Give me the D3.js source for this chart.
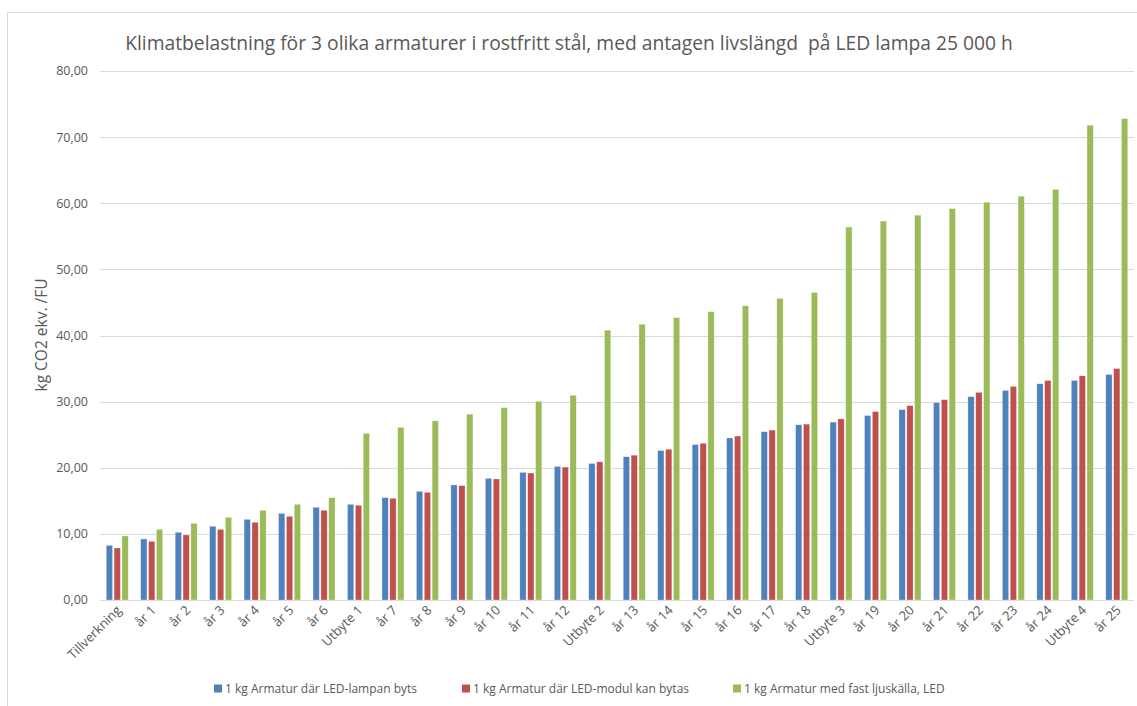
<!DOCTYPE html>
<html><head><meta charset="utf-8">
<script src="https://cdn.jsdelivr.net/npm/d3@7"></script>
<style>
html,body{margin:0;padding:0;background:#fff;}
svg{display:block;font-family:"Open Sans",sans-serif;}
text{white-space:pre;}
</style></head>
<body>
<svg id="chart" width="1137" height="706"></svg>
<script>
const categories = ["Tillverkning","år 1","år 2","år 3","år 4","år 5","år 6","Utbyte 1","år 7","år 8","år 9","år 10","år 11","år 12","Utbyte 2","år 13","år 14","år 15","år 16","år 17","år 18","Utbyte 3","år 19","år 20","år 21","år 22","år 23","år 24","Utbyte 4","år 25"];
const seriesNames = ["1 kg Armatur där LED-lampan byts","1 kg Armatur där LED-modul kan bytas","1 kg Armatur med fast ljuskälla, LED"];
const lampValues   = [8.27,9.23,10.24,11.15,12.2,13.1,14.02,14.47,15.48,16.44,17.4,18.4,19.3,20.2,20.65,21.67,22.6,23.5,24.5,25.45,26.5,26.9,27.9,28.8,29.85,30.75,31.7,32.7,33.2,34.1];
const moduleValues = [7.87,8.88,9.83,10.69,11.75,12.66,13.57,14.32,15.38,16.29,17.3,18.3,19.2,20.1,20.9,21.9,22.8,23.7,24.8,25.7,26.6,27.4,28.5,29.4,30.3,31.4,32.3,33.2,33.9,35.0];
const fixedValues  = [9.68,10.69,11.6,12.5,13.57,14.47,15.48,25.2,26.1,27.1,28.1,29.1,30.05,30.96,40.8,41.7,42.7,43.6,44.5,45.6,46.5,56.4,57.3,58.2,59.2,60.15,61.06,62.1,71.8,72.8];
const yTicks = [0,10,20,30,40,50,60,70,80];
const colors = ["#4F81BD","#C0504D","#9BBB59"];
const title = "Klimatbelastning för 3 olika armaturer i rostfritt stål, med antagen livslängd  på LED lampa 25 000 h";
const yTitle = "kg CO2 ekv. /FU";

const seriesValues = [lampValues, moduleValues, fixedValues];
const data = categories.map((c,i)=>({cat:c, vals: seriesValues.map((s,k)=>({k, v:s[i]}))}));

const svg = d3.select("#chart");
const W = 1137, H = 706;
const plot = {left:100, right:1134, top:71, bottom:600};
const textColor = "#595959";

// chart border
svg.append("rect").attr("x",7.5).attr("y",12.5).attr("width",W+5).attr("height",H+5)
  .attr("fill","none").attr("stroke","#D9D9D9").attr("stroke-width",1);

const x0 = d3.scaleBand().domain(categories).range([plot.left, plot.right]).paddingInner(0).paddingOuter(0);
const x1 = d3.scaleBand().domain([0,1,2]).range([-11, 11]).paddingInner(0.2);
const y = d3.scaleLinear().domain([0,80]).range([plot.bottom, plot.top]);

// gridlines
svg.append("g").selectAll("line").data(yTicks).join("line")
  .attr("x1",plot.left).attr("x2",plot.right)
  .attr("y1",d=>Math.round(y(d))+0.5).attr("y2",d=>Math.round(y(d))+0.5)
  .attr("stroke","#D9D9D9").attr("stroke-width",1.2);

// y tick labels
const fmt = d => d.toFixed(2).replace(".",",");
svg.append("g").selectAll("text").data(yTicks).join("text")
  .attr("x",88).attr("y",d=>y(d)).attr("dy","0.35em")
  .attr("text-anchor","end").attr("fill",textColor).attr("font-size",12.5)
  .text(fmt);

// bars
const groups = svg.append("g").selectAll("g").data(data).join("g")
  .attr("transform",d=>`translate(${x0(d.cat)+x0.bandwidth()/2},0)`);
groups.selectAll("rect").data(d=>d.vals).join("rect")
  .attr("x",d=>x1(d.k)).attr("width",x1.bandwidth())
  .attr("y",d=>y(d.v)).attr("height",d=>y(0)-y(d.v))
  .attr("fill",d=>colors[d.k])
  .attr("stroke","#ffffff").attr("stroke-opacity",0.5).attr("stroke-width",0.6);

// x labels
svg.append("g").selectAll("text").data(categories).join("text")
  .attr("transform",d=>`translate(${x0(d)+x0.bandwidth()/2+5},${611}) rotate(-45)`)
  .attr("text-anchor","end").attr("fill",textColor).attr("font-size",13)
  .text(d=>d);

// y title
svg.append("text").attr("transform","translate(47,335) rotate(-90)")
  .attr("text-anchor","middle").attr("fill",textColor).attr("font-size",15.5)
  .text(yTitle);

// title
const t = svg.append("text").attr("x",569).attr("y",50).attr("text-anchor","middle")
  .attr("fill",textColor).attr("font-size",19).text(title);
const tw = t.node().getComputedTextLength();
t.attr("font-size", 19*888/tw);

// legend
const legX = [214, 462, 733];
const leg = svg.append("g").selectAll("g").data(seriesNames).join("g")
  .attr("transform",(d,i)=>`translate(${legX[i]},689)`);
leg.append("rect").attr("x",0).attr("y",-4.5).attr("width",8).attr("height",8).attr("fill",(d,i)=>colors[i]);
leg.append("text").attr("x",11).attr("y",0).attr("dy","0.35em").attr("fill",textColor).attr("font-size",12)
  .text(d=>d);
</script>
</body></html>
